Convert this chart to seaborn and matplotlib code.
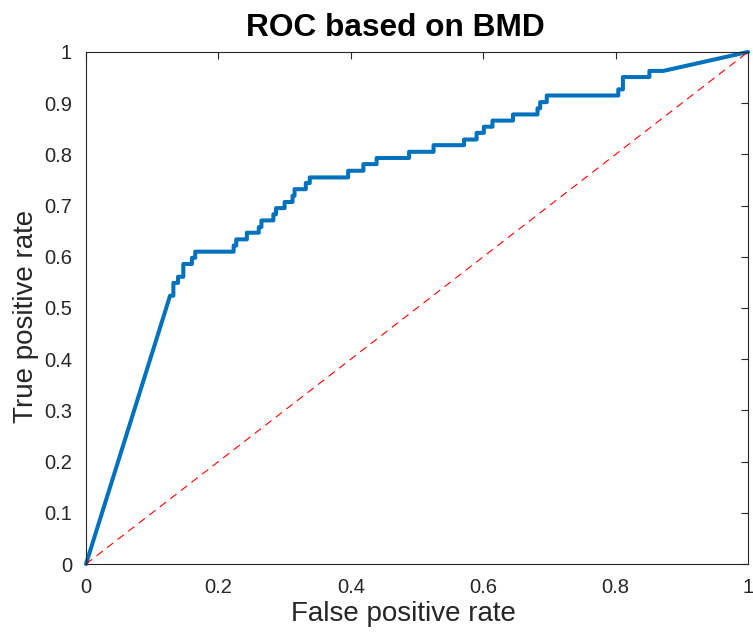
import numpy as np
import pandas as pd
import seaborn as sns
import matplotlib.pyplot as plt
from matplotlib.ticker import FormatStrFormatter

# --- ROC curve vertices ---
fpr = [0, 0.127,
       0.132, 0.132, 0.139, 0.139, 0.147, 0.147, 0.160, 0.160, 0.165, 0.165,
       0.223, 0.223, 0.227, 0.227, 0.243, 0.243, 0.261, 0.261, 0.265, 0.265,
       0.283, 0.283, 0.287, 0.287, 0.300, 0.300, 0.312, 0.312, 0.315, 0.315,
       0.332, 0.332, 0.338, 0.338, 0.396, 0.396, 0.419, 0.419, 0.439, 0.439,
       0.488, 0.488, 0.525, 0.525, 0.571, 0.571, 0.590, 0.590, 0.601, 0.601,
       0.614, 0.614, 0.645, 0.645, 0.682, 0.682, 0.686, 0.686, 0.696, 0.696,
       0.804, 0.804, 0.811, 0.811, 0.851, 0.851,
       0.872, 1.0]
tpr = [0, 0.524,
       0.524, 0.549, 0.549, 0.561, 0.561, 0.586, 0.586, 0.598, 0.598, 0.610,
       0.610, 0.622, 0.622, 0.634, 0.634, 0.647, 0.647, 0.658, 0.658, 0.671,
       0.671, 0.683, 0.683, 0.695, 0.695, 0.707, 0.707, 0.719, 0.719, 0.732,
       0.732, 0.744, 0.744, 0.755, 0.755, 0.768, 0.768, 0.781, 0.781, 0.793,
       0.793, 0.805, 0.805, 0.818, 0.818, 0.829, 0.829, 0.842, 0.842, 0.854,
       0.854, 0.866, 0.866, 0.878, 0.878, 0.890, 0.890, 0.902, 0.902, 0.915,
       0.915, 0.927, 0.927, 0.951, 0.951, 0.963,
       0.963, 1.0]
chance = [0, 1]

x_ticks = [0, 0.2, 0.4, 0.6, 0.8, 1]
y_ticks = [0, 0.1, 0.2, 0.3, 0.4, 0.5, 0.6, 0.7, 0.8, 0.9, 1]

sns.set_style("white")
plt.rcParams['font.family'] = ['Liberation Sans', 'DejaVu Sans']
dark = '#262626'

df = pd.DataFrame({'fpr': fpr, 'tpr': tpr})

fig = plt.figure(figsize=(7.53, 6.33), dpi=100)
ax = fig.add_axes([0.1142, 0.109, 0.8792, 0.8089])

sns.lineplot(data=df, x='fpr', y='tpr', sort=False, estimator=None,
             color='#0072BD', linewidth=2.9, ax=ax, clip_on=False)
sns.lineplot(x=chance, y=chance, color='red', linewidth=0.8,
             dashes=False, ax=ax, linestyle=(0, (7, 5)))

ax.set_xlim(0, 1)
ax.set_ylim(0, 1)
ax.set_xticks(x_ticks)
ax.set_yticks(y_ticks)
ax.xaxis.set_major_formatter(FormatStrFormatter('%g'))
ax.yaxis.set_major_formatter(FormatStrFormatter('%g'))
ax.tick_params(direction='in', length=5, width=0.8, colors=dark,
               labelsize=14.5, top=True, right=True, pad=10)

for sp in ax.spines.values():
    sp.set_visible(True)
    sp.set_color(dark)
    sp.set_linewidth(0.8)

ax.set_xlabel('False positive rate', fontsize=20, color=dark, labelpad=3)
ax.set_ylabel('True positive rate', fontsize=20, color=dark, labelpad=4)
ax.xaxis.label.set_x(0.479)
ax.yaxis.label.set_y(0.483)
ax.set_title('ROC based on BMD', fontsize=22.8, fontweight='bold',
             color='black', pad=11.5, x=0.468)

plt.savefig('out.png', dpi=100)
plt.close()
